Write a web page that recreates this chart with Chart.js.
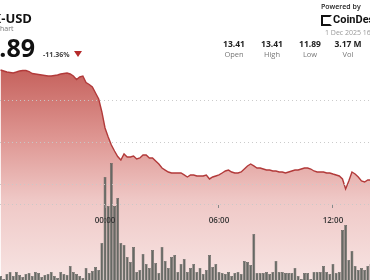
<!DOCTYPE html>
<html><head><meta charset="utf-8">
<script src="https://cdn.jsdelivr.net/npm/chart.js@4.4.1/dist/chart.umd.min.js"></script>
<style>
html,body{margin:0;padding:0;background:#fff;}
body{width:370px;height:280px;overflow:hidden;position:relative;font-family:'Open Sans',sans-serif;}
#c{position:absolute;left:0;top:0;}
.t{position:absolute;white-space:nowrap;line-height:1;}
.col{position:absolute;width:44px;text-align:center;line-height:1;white-space:nowrap;}
.v{font-size:8.5px;font-weight:700;color:#222;}
.l{font-size:7.5px;color:#777;}
</style></head><body>
<canvas id="c" width="370" height="300"></canvas>

<div class="t" style="right:338px;top:11.5px;font-size:13px;font-weight:700;color:#111">LINK-USD</div>
<div class="t" style="right:356.5px;top:25px;font-size:7px;color:#777">Price Chart</div>
<div class="t" style="right:335px;top:35px;font-size:25px;font-weight:700;color:#111">11.89</div>
<div class="t" style="left:43px;top:50.5px;font-size:7px;font-weight:700;color:#444">-11.36%</div>
<div style="position:absolute;left:74px;top:51px;width:0;height:0;border-left:4px solid transparent;border-right:4px solid transparent;border-top:6px solid #b52b2b"></div>

<div class="t" style="left:321px;top:2.5px;font-size:7px;font-weight:600;color:#222">Powered by</div>
<div style="position:absolute;left:321px;top:15px;width:7px;height:7px;border:2px solid #111;border-right-color:transparent"></div>
<div class="t" style="left:333px;top:14px;font-family:Roboto,sans-serif;font-size:11px;font-weight:700;color:#111">CoinDesk</div>
<div class="t" style="left:325px;top:29px;font-size:7px;color:#999">1 Dec 2025 16:04 UTC</div>

<div class="col v" style="left:212px;top:40px">13.41</div>
<div class="col l" style="left:212px;top:50.5px">Open</div>
<div class="col v" style="left:250px;top:40px">13.41</div>
<div class="col l" style="left:250px;top:50.5px">High</div>
<div class="col v" style="left:288px;top:40px">11.89</div>
<div class="col l" style="left:288px;top:50.5px">Low</div>
<div class="col v" style="left:326px;top:40px">3.17 M</div>
<div class="col l" style="left:326px;top:50.5px">Vol</div>

<script>
// time axis: hours relative to 00:00 (1 Dec), one sample every 10 minutes
const startHour = -5.5;
const stepHour = 1 / 6;
const xTickHours = [0, 6, 12];
const xTickLabels = ['00:00', '06:00', '12:00'];
const priceGridValues = [11.765, 12.0, 12.5, 13.0];

const prices = [
 13.353,13.341,13.329,13.324,13.318,13.329,13.341,13.347,13.347,13.335,
 13.312,13.306,13.300,13.294,13.288,13.282,13.282,13.288,13.294,13.306,
 13.312,13.318,13.306,13.282,13.241,13.271,13.282,13.206,13.182,13.153,
 13.082,13.012,12.859,12.671,12.565,12.471,12.400,12.335,12.294,12.365,
 12.329,12.329,12.341,12.306,12.318,12.353,12.353,12.318,12.318,12.282,
 12.247,12.200,12.176,12.153,12.141,12.141,12.141,12.141,12.118,12.094,
 12.118,12.118,12.106,12.106,12.106,12.118,12.071,12.094,12.106,12.118,
 12.141,12.165,12.176,12.153,12.141,12.141,12.153,12.188,12.224,12.247,
 12.224,12.200,12.200,12.188,12.176,12.176,12.165,12.165,12.153,12.153,
 12.141,12.153,12.165,12.176,12.176,12.188,12.200,12.200,12.188,12.165,
 12.153,12.153,12.153,12.141,12.141,12.129,12.118,12.106,12.071,11.953,
 12.047,12.153,12.129,12.094,12.047,12.035,12.059,12.059
];

const volumes = [
 12,10.5,13,14,12,14,12.5,11.5,13,13.5,
 12,14,13.5,11.5,12.5,13,14,12,11,14,
 13,12.5,17,14,13,12,11,16,13.5,14.5,
 16.5,15,28.5,61.5,47,68.5,47,51,28.5,27.5,
 21.5,19,26.5,14,15,23,18,16,25,18.5,
 13.5,26.5,19.5,16,21.5,22.5,14,18,20.5,14,
 16,18,14,16,13,15,22.5,16.5,18,14,
 13.5,13,14,12,13.5,14,13,19.5,19,17.5,
 33,13.5,13.5,13.5,14,13,14,19.5,14,14,
 13.5,13.5,13.5,16,12,10.5,13.5,13.5,10.5,14,
 14,14,17,14,13,18,13.5,14,35,37.5,
 20,24.5,17,15,16,15,17,18
];

const hours = prices.map((_, i) => startHour + i * stepHour);
const priceData = prices.map((p, i) => ({x: hours[i], y: p}));
const volumeData = volumes.map((v, i) => ({x: hours[i], y: v}));

function fillGradient(c) {
  const {ctx, chartArea} = c.chart;
  if (!chartArea) return 'rgba(210,120,115,0.6)';
  const g = ctx.createLinearGradient(0, 62, 0, 300);
  g.addColorStop(0.00, 'rgb(195,92,87)');
  g.addColorStop(0.33, 'rgb(223,152,148)');
  g.addColorStop(0.58, 'rgb(239,200,198)');
  g.addColorStop(1.00, 'rgb(249,235,234)');
  return g;
}

new Chart(document.getElementById('c'), {
  type: 'line',
  data: {
    datasets: [
      {
        type: 'bar',
        data: volumeData,
        yAxisID: 'yVol',
        backgroundColor: '#666964',
        borderColor: '#4c4e4a',
        borderWidth: 0.5,
        barPercentage: 0.9,
        categoryPercentage: 1.0
      },
      {
        type: 'line',
        data: priceData,
        yAxisID: 'y',
        borderColor: '#b23a3a',
        borderWidth: 1.4,
        pointRadius: 0,
        tension: 0,
        fill: 'start',
        backgroundColor: fillGradient
      }
    ]
  },
  options: {
    responsive: false,
    animation: false,
    devicePixelRatio: 1,
    layout: {padding: 0},
    plugins: {legend: {display: false}, tooltip: {enabled: false}},
    scales: {
      x: {
        type: 'linear',
        min: -5.53,
        max: 13.95,
        offset: false,
        position: {y: 11.765},
        afterBuildTicks: s => { s.ticks = xTickHours.map(v => ({value: v})); },
        grid: {display: true, drawOnChartArea: false, drawTicks: true, tickLength: 3, color: '#888', offset: false, z: 2},
        border: {display: false, z: 2},
        ticks: {
          autoSkip: false, maxRotation: 0, padding: 8, z: 2,
          color: '#333',
          font: {family: 'Open Sans', size: 8, weight: '600'},
          callback: v => { const i = xTickHours.indexOf(v); return i >= 0 ? xTickLabels[i] : ''; }
        }
      },
      y: {
        type: 'linear',
        position: 'left',
        min: 10.647,
        max: 14.1765,
        afterBuildTicks: s => { s.ticks = priceGridValues.map(v => ({value: v})); },
        grid: {display: true, drawTicks: false, color: 'rgba(200,200,200,0.95)', lineWidth: 1, z: 1},
        border: {display: false, dash: [1, 3]},
        ticks: {display: false}
      },
      yVol: {
        type: 'linear',
        position: 'right',
        display: false,
        min: 0,
        max: 150
      }
    }
  }
});
</script>
</body></html>
